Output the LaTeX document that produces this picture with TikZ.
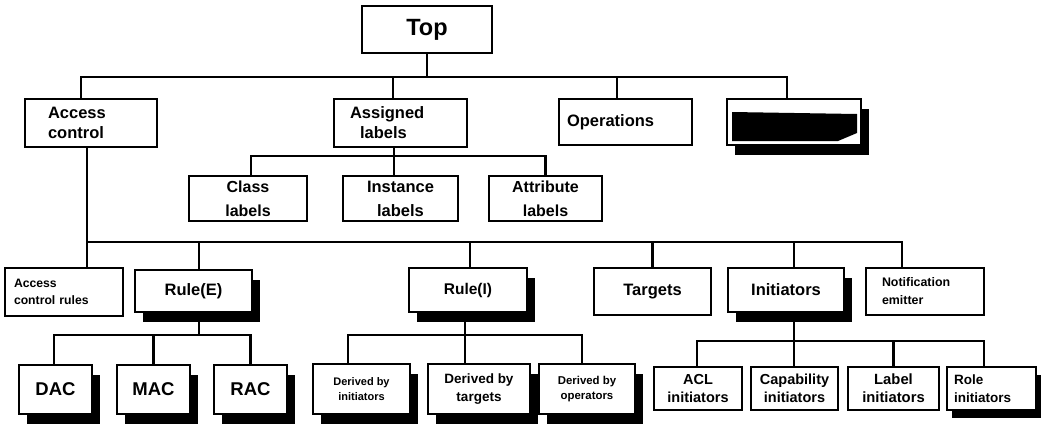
\documentclass[tikz,border=0pt]{standalone}
\usepackage{fontspec}
\setmainfont{Liberation Sans}
\usetikzlibrary{shadows,calc}
\begin{document}
\begin{tikzpicture}[x=1pt,y=-1pt,
 box/.style={draw, line width=2.6pt, fill=white, inner sep=0pt, align=center, font=\bfseries\fontsize{16.5}{20}\selectfont},
 shd/.style={drop shadow={shadow xshift=8pt,shadow yshift=-10pt,opacity=1,fill=black}},
 wire/.style={line width=2.6pt},
 sz/.style 2 args={minimum width=#1pt, minimum height=#2pt},
 fs/.style 2 args={font=\bfseries\fontsize{#1}{#2}\selectfont}]
\useasboundingbox (0,0) rectangle (1048,426);

% level 0 and 1
\node[box, sz={130}{47}, fs={23.5}{26}] (top) at (427,29.5) {Top};
\node[box, sz={132}{48}, text width=86pt, align=left] (ac) at (91,123) {Access\\control};
\node[box, sz={133}{48}, text width=101pt, align=left] (al) at (400.5,123) {Assigned\\\hspace*{10pt}labels};
\node[box, sz={133}{46}, text width=117pt, align=left] (op) at (625.5,122) {Operations};
\node[box, shd, sz={134}{46}] (mg) at (794,122) {};
\fill (732,112) -- (857,114) -- (857,133) -- (838,141) -- (732,141) -- cycle;

% labels
\node[box, sz={118}{45}, fs={16}{24}] (cls) at (248,198.5) {Class\\labels};
\node[box, sz={115}{45}, fs={16.5}{24}] (inst) at (400.5,198.5) {Instance\\labels};
\node[box, sz={113}{45}, fs={16}{24}] (attr) at (545.5,198.5) {Attribute\\labels};

% access control children
\node[box, sz={118}{48}, text width=100pt, align=left, fs={12.2}{17}] (acr) at (64,292) {Access\\control rules};
\node[box, shd, sz={117}{42}] (rulee) at (193.5,291) {Rule(E)};
\node[box, shd, sz={118}{44}, fs={15.5}{20}] (rulei) at (468,290) {Rule(I)};
\node[box, sz={117}{47}] (tgt) at (652.5,291.5) {Targets};
\node[box, shd, sz={116}{44}] (init) at (786,290) {Initiators};
\node[box, sz={118}{47}, text width=86pt, align=left, fs={12.4}{18}] (notif) at (925,291.5) {Notification\\emitter};

% Rule(E) children
\node[box, shd, sz={73}{49}, fs={18.5}{22}] (dac) at (55.5,389.5) {DAC};
\node[box, shd, sz={73}{49}, fs={18.5}{22}] (mac) at (153.5,389.5) {MAC};
\node[box, shd, sz={73}{49}, fs={18.5}{22}] (rac) at (250.5,389.5) {RAC};

% Rule(I) children
\node[box, shd, sz={97}{50}, fs={11}{15}] (di) at (361.5,389) {Derived by\\initiators};
\node[box, shd, sz={102}{50}, fs={13.5}{18}] (dt) at (479,389) {Derived by\\targets};
\node[box, shd, sz={96}{50}, fs={11.4}{15}] (do) at (587,389) {Derived by\\operators};

% Initiators children
\node[box, sz={88}{43}, fs={14.5}{18}] (acl) at (698,388.5) {ACL\\initiators};
\node[box, sz={87}{43}, fs={14.5}{18}] (cap) at (794.5,388.5) {Capability\\initiators};
\node[box, sz={91}{43}, fs={14.8}{18}] (lab) at (893.5,388.5) {Label\\initiators};
\node[box, sz={89}{43}, text width=75pt, align=left, fs={13.5}{18}, drop shadow={shadow xshift=5pt,shadow yshift=-8pt,opacity=1,fill=black}] (role) at (991.5,388.5) {Role\\initiators};

% bus coordinates
\coordinate (b1) at (0,77);
\coordinate (b2) at (0,156);
\coordinate (b3) at (0,242);
\coordinate (b4) at (0,335);
\coordinate (b5) at (0,341);

% top level connectors
\draw[wire] (top.south) -- (top.south |- b1);
\draw[wire] ([xshift=-10pt]ac.north) |- ([xshift=-7pt]mg.north |- b1) -- ([xshift=-7pt]mg.north);
\draw[wire] ([xshift=-7.5pt]al.north) -- ([xshift=-7.5pt]al.north |- b1);
\draw[wire] ([xshift=-8.5pt]op.north) -- ([xshift=-8.5pt]op.north |- b1);

% assigned labels
\draw[wire] ([xshift=-6.5pt]al.south) -- ([xshift=-6.5pt]inst.north);
\draw[wire] ([xshift=3pt]cls.north) |- (attr.north |- b2) -- (attr.north);

% access control
\draw[wire] ([xshift=-4pt]ac.south) -- ([xshift=-4pt]ac.south |- acr.north);
\draw[wire] ([xshift=-4pt]ac.south |- b3) -| ([xshift=-23pt]notif.north);
\draw[wire] ([xshift=5.5pt]rulee.north) -- ([xshift=5.5pt]rulee.north |- b3);
\draw[wire] ([xshift=2pt]rulei.north) -- ([xshift=2pt]rulei.north |- b3);
\draw[wire] (tgt.north) -- (tgt.north |- b3);
\draw[wire] ([xshift=8pt]init.north) -- ([xshift=8pt]init.north |- b3);

% Rule(E)
\draw[wire] ([xshift=5.5pt]rulee.south) -- ([xshift=5.5pt]rulee.south |- b4);
\draw[wire] ([xshift=-1.5pt]dac.north) |- (rac.north |- b4) -- (rac.north);
\draw[wire] (mac.north) -- (mac.north |- b4);

% Rule(I)
\draw[wire] ([xshift=-3pt]rulei.south) -- ([xshift=-14pt]dt.north);
\draw[wire] ([xshift=-13.5pt]di.north) |- ([xshift=-5pt]do.north |- b4) -- ([xshift=-5pt]do.north);

% Initiators
\draw[wire] ([xshift=8pt]init.south) -- ([xshift=8pt]init.south |- cap.north);
\draw[wire] ([xshift=-1pt]acl.north) |- ([xshift=-7.5pt]role.north |- b5) -- ([xshift=-7.5pt]role.north);
\draw[wire] (lab.north) -- (lab.north |- b5);
\end{tikzpicture}
\end{document}
